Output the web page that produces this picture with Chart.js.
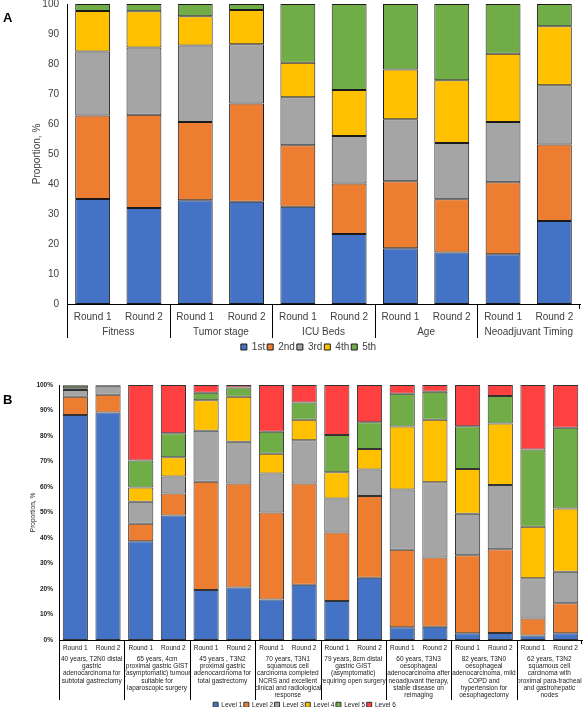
<!DOCTYPE html>
<html lang="en">
<head>
<meta charset="UTF-8">
<title>Proportion by round</title>
<script src="https://cdn.jsdelivr.net/npm/chart.js@4.4.0/dist/chart.umd.min.js"></script>
<style>
  html, body { margin: 0; padding: 0; background: #fff; overflow: hidden; }
  #wrap { position: relative; width: 583px; height: 707px; overflow: hidden; }
  canvas { position: absolute; left: 0; }
  #chartA { top: -10px; }
  #chartB { top: 370px; }
  .panel { position: absolute; left: 3px; font: bold 13px "Liberation Sans", Arial, sans-serif; line-height: 13px; color: #000; }
</style>
</head>
<body>
<div id="wrap">
  <canvas id="chartA" width="583" height="372"></canvas>
  <canvas id="chartB" width="583" height="348"></canvas>
  <div class="panel" style="top:11px">A</div>
  <div class="panel" style="top:393px">B</div>
</div>

<script>
// ---- panel A data ----
const roundsA = ['Round 1', 'Round 2', 'Round 1', 'Round 2', 'Round 1', 'Round 2', 'Round 1', 'Round 2', 'Round 1', 'Round 2'];
const groupsA = ['Fitness', 'Tumor stage', 'ICU Beds', 'Age', 'Neoadjuvant Timing'];
const seriesA = ['1st', '2nd', '3rd', '4th', '5th'];
const a1st = [35.0, 32.0, 34.6, 34.1, 32.4, 23.3, 18.6, 17.2, 16.6, 27.7];
const a2nd = [27.8, 31.1, 26.1, 32.7, 20.5, 16.9, 22.3, 17.7, 24.0, 25.5];
const a3rd = [21.4, 22.4, 25.5, 19.8, 16.0, 15.8, 20.7, 18.8, 20.1, 19.7];
const a4th = [13.5, 12.1, 9.7, 11.4, 11.5, 15.3, 16.6, 20.9, 22.7, 19.7];
const a5th = [2.3, 2.4, 4.1, 2.0, 19.6, 28.7, 21.8, 25.4, 16.6, 7.4];

// ---- panel B data ----
const roundsB = ['Round 1', 'Round 2', 'Round 1', 'Round 2', 'Round 1', 'Round 2', 'Round 1', 'Round 2',
                 'Round 1', 'Round 2', 'Round 1', 'Round 2', 'Round 1', 'Round 2', 'Round 1', 'Round 2'];
const groupsB = [
  ['40 years, T2N0 distal', 'gastric', 'adenocarcinoma for', 'subtotal gastrectomy'],
  ['65 years, 4cm', 'proximal gastric GIST', '(asymptomatic) tumour', 'suitable for', 'laparoscopic surgery'],
  ['45 years , T3N2', 'proximal gastric', 'adenocarcinoma for', 'total gastrectomy'],
  ['70 years, T3N1', 'squamous cell', 'carcinoma completed', 'NCRS and excellent', 'clinical and radiological', 'response'],
  ['79 years, 8cm distal', 'gastric GIST', '(asymptomatic)', 'requiring open surgery'],
  ['60 years, T3N3', 'oesophageal', 'adenocarcinoma after', 'neoadjuvant therapy,', 'stable disease on', 'reimaging'],
  ['82 years, T3N0', 'oesophageal', 'adenocarcinoma, mild', 'COPD and', 'hypertension for', 'oesophagectomy'],
  ['62 years, T3N2', 'squamous cell', 'carcinoma with', 'proximal para-tracheal', 'and gastrohepatic', 'nodes']
];
const seriesB = ['Level 1', 'Level 2', 'Level 3', 'Level 4', 'Level 5', 'Level 6'];
const level1 = [88.2, 89.2, 38.7, 48.8, 19.6, 20.6, 15.9, 21.7, 15.3, 24.4, 5.0, 5.2, 2.6, 2.7, 1.8, 2.6];
const level2 = [7.2, 7.0, 6.9, 8.7, 42.5, 40.8, 34.1, 39.7, 26.9, 32.1, 30.4, 27.2, 30.6, 32.9, 6.6, 11.8];
const level3 = [2.6, 3.5, 8.6, 6.6, 20.0, 16.3, 15.3, 16.9, 13.3, 10.4, 23.6, 29.5, 16.3, 25.2, 15.8, 12.4];
const level4 = [0.7, 0.0, 5.6, 7.6, 11.9, 17.7, 7.7, 8.1, 10.3, 8.0, 24.7, 24.5, 17.6, 24.1, 20.2, 24.8];
const level5 = [1.0, 0.3, 10.6, 9.4, 3.0, 3.6, 8.7, 6.7, 14.6, 10.5, 12.9, 11.0, 16.7, 10.8, 30.3, 31.6];
const level6 = [0.3, 0.0, 29.6, 18.9, 3.0, 1.0, 18.3, 6.9, 19.6, 14.6, 3.4, 2.6, 16.2, 4.3, 25.3, 16.8];

const palette = ['#4472C4', '#ED7D31', '#A5A5A5', '#FFC000', '#70AD47', '#FF4040'];
const FONT = '"Liberation Sans", Arial, sans-serif';

Chart.defaults.font.family = FONT;
Chart.defaults.animation = false;

// draws the second row of the category axis (group names + separators)
const groupAxis = {
  id: 'groupAxis',
  afterDraw(chart, args, opts) {
    const { ctx, chartArea, scales: { x } } = chart;
    const step = x.getPixelForValue(1) - x.getPixelForValue(0);
    const bottom = chartArea.bottom;
    ctx.save();
    ctx.strokeStyle = opts.lineColor;
    ctx.lineWidth = 1;
    ctx.fillStyle = opts.color;
    ctx.font = opts.font;
    ctx.textAlign = 'center';
    ctx.textBaseline = 'middle';
    opts.groups.forEach((g, i) => {
      const left = Math.round(x.getPixelForValue(2 * i) - step / 2) + 0.5;
      ctx.beginPath();
      ctx.moveTo(left, bottom);
      ctx.lineTo(left, bottom + opts.lineLen);
      ctx.stroke();
      const mid = (x.getPixelForValue(2 * i) + x.getPixelForValue(2 * i + 1)) / 2;
      [].concat(g).forEach((t, j) => ctx.fillText(t, mid, bottom + opts.textTop + j * opts.lineHeight));
    });
    const right = Math.round(chartArea.right) - 0.5;
    ctx.beginPath();
    ctx.moveTo(right, bottom);
    ctx.lineTo(right, bottom + opts.endLen);
    ctx.stroke();
    ctx.restore();
  }
};

function makeSets(names, arrays, border) {
  return arrays.map((d, i) => ({
    label: names[i],
    data: d,
    backgroundColor: palette[i],
    borderColor: border,
    borderWidth: 1,
    borderSkipped: false
  }));
}

// ---- panel A ----
// left padding nudges the centred legend to the right; y axis width shrinks to compensate
new Chart('chartA', {
  type: 'bar',
  data: {
    labels: roundsA,
    datasets: makeSets(seriesA, [a1st, a2nd, a3rd, a4th, a5th], '#1a1a1a')
  },
  plugins: [groupAxis],
  options: {
    responsive: false,
    layout: { padding: { top: 4, right: 3, left: 37, bottom: 0 } },
    datasets: { bar: { barPercentage: 0.68, categoryPercentage: 1 } },
    scales: {
      x: {
        stacked: true,
        grid: { display: false, drawTicks: false },
        border: { color: '#000' },
        ticks: { autoSkip: false, maxRotation: 0, padding: 7, color: '#404040', font: { size: 10 } },
        afterFit(s) { s.height = 36; }
      },
      y: {
        stacked: true,
        min: 0, max: 100,
        grid: { display: false, drawTicks: false },
        border: { color: '#000' },
        ticks: { stepSize: 10, padding: 8, color: '#404040', font: { size: 10 } },
        title: { display: true, text: 'Proportion, %', color: '#404040', font: { size: 10 }, padding: { top: -6, bottom: 0 } },
        afterFit(s) { s.width = 30; }
      }
    },
    plugins: {
      legend: {
        position: 'bottom',
        labels: { boxWidth: 6, boxHeight: 6, padding: 2, color: '#404040', font: { size: 10 } }
      },
      tooltip: { enabled: false },
      groupAxis: { groups: groupsA, font: '10px ' + FONT, color: '#404040', lineColor: '#000',
                   lineLen: 34, endLen: 5, textTop: 28, lineHeight: 12 }
    }
  }
});

// ---- panel B ----
new Chart('chartB', {
  type: 'bar',
  data: {
    labels: roundsB,
    datasets: makeSets(seriesB, [level1, level2, level3, level4, level5, level6], '#333')
  },
  plugins: [groupAxis],
  options: {
    responsive: false,
    layout: { padding: { top: 15, right: 1, left: 27, bottom: 0 } },
    datasets: { bar: { barPercentage: 0.77, categoryPercentage: 1 } },
    scales: {
      x: {
        stacked: true,
        grid: { display: false, drawTicks: false },
        border: { color: '#000' },
        ticks: { autoSkip: false, maxRotation: 0, padding: 4, color: '#222', font: { size: 6.5 } },
        afterFit(s) { s.height = 60; }
      },
      y: {
        stacked: true,
        min: 0, max: 100,
        grid: { display: false, drawTicks: false },
        border: { color: '#000' },
        ticks: { stepSize: 10, padding: 6, color: '#222', font: { size: 6.5, weight: 'bold' },
                 callback: v => v + '%' },
        title: { display: true, text: 'Proportion, %', color: '#222', font: { size: 6.5 }, padding: { top: 2, bottom: 0 } },
        afterFit(s) { s.width = 32; }
      }
    },
    plugins: {
      legend: {
        position: 'bottom',
        labels: { boxWidth: 5, boxHeight: 5, padding: 1.5, color: '#222', font: { size: 6.5 } }
      },
      tooltip: { enabled: false },
      groupAxis: { groups: groupsB, font: '6.5px ' + FONT, color: '#222', lineColor: '#000',
                   lineLen: 60, endLen: 4, textTop: 19, lineHeight: 7.3 }
    }
  }
});
</script>
</body>
</html>
